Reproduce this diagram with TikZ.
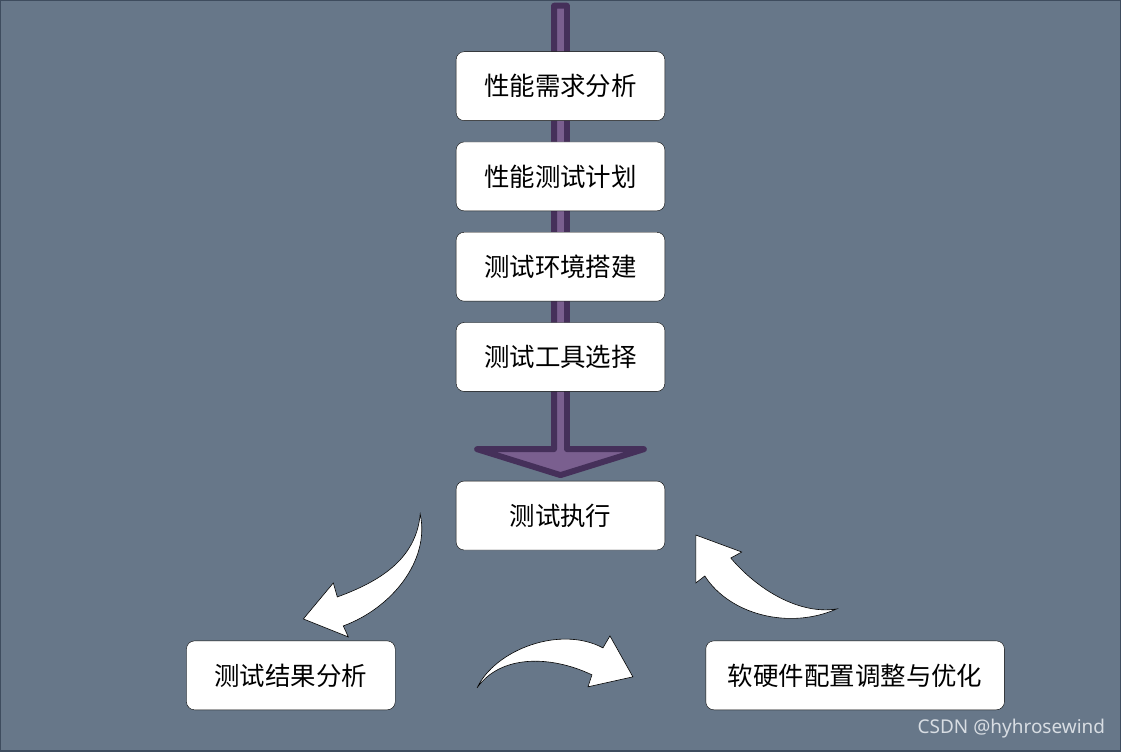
\documentclass[tikz,border=0pt]{standalone}
\usepackage{fontspec}
\setmainfont{Noto Sans CJK SC}
\newfontfamily\markfont{Noto Sans}
\usepackage{xcolor}
\usepackage{tikz}
\usetikzlibrary{positioning}

\definecolor{bgslate}{HTML}{677789}
\definecolor{bgedge}{HTML}{3E4C5E}
\definecolor{flowfill}{HTML}{7A5F8F}
\definecolor{flowedge}{HTML}{45305A}
\definecolor{markgray}{HTML}{D8DDE3}

\begin{document}
\begin{tikzpicture}[
        x=1pt, y=-1pt,
        node distance=21pt,
        block/.style={rectangle, draw, fill=white, rounded corners=8pt, minimum width=209pt, minimum height=69pt, font=\fontsize{25.5}{30}\selectfont, inner sep=0pt},
        wideblock/.style={block, minimum width=299pt},
        bigflow/.style={draw=flowedge, fill=flowfill, line width=6pt, line join=round},
        curl/.style={draw=black, fill=white, line width=0.6pt, line join=miter}
        ]

        % Background
        \fill[bgslate, draw=bgedge, line width=1.5pt] (0,0) rectangle (1121,751);

        % Main arrow
        \path[bigflow] (554,5) -- (567,5) -- (567,449) -- (644,449) -- (560.5,475)
            -- (477,449) -- (554,449) -- cycle;

        % Nodes
        \node [block] (need) at (560.5,85.5) {性能需求分析};
        \node [block, below=of need] (plan) {性能测试计划};
        \node [block, below=of plan] (env) {测试环境搭建};
        \node [block, below=of env] (tool) {测试工具选择};
        \node [block] (exec) at (560.5,515.5) {测试执行};
        \node [block] (result) at (290.5,675.5) {测试结果分析};
        \node [wideblock] (tune) at (855.5,675.5) {软硬件配置调整与优化};

        % Curved arrows
        \path[curl] (420,514) .. controls (430,560) and (392,608) .. (343,626)
            -- (348,637) -- (303,619) -- (333,583) -- (337,597)
            .. controls (378,582) and (416,560) .. cycle;
        \path[curl] (477,688) .. controls (495,650) and (560,625) .. (603,648)
            -- (610,636) -- (633,677) -- (588,687) -- (592,675)
            .. controls (550,655) and (500,655) .. cycle;
        \path[curl] (837,609) .. controls (800,615) and (758,590) .. (731,558)
            -- (742,552) -- (696,535) -- (696,583) -- (705,576)
            .. controls (730,615) and (790,630) .. cycle;

        % Watermark
        \node [text=markgray, font=\markfont\fontsize{19}{22}\selectfont, anchor=east, inner sep=0pt] (mark) at (1106,729) {CSDN @hyhrosewind};
    \end{tikzpicture}
\end{document}
